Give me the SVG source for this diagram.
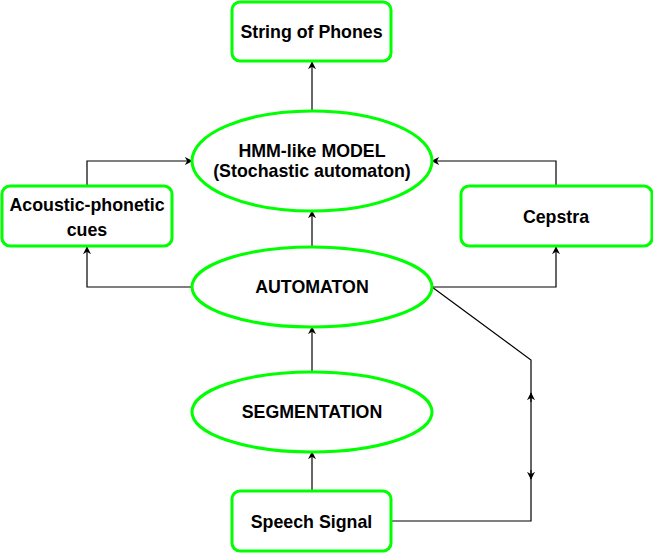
<svg xmlns="http://www.w3.org/2000/svg" width="653" height="553" viewBox="0 0 653 553">
<defs>
<style>
.n{fill:#fff;stroke:#00ff00;stroke-width:3}
.t{font-family:"Liberation Sans",Arial,sans-serif;font-weight:bold;font-size:17.8px;text-anchor:middle;fill:#000}
.c{fill:none;stroke:#000;stroke-width:1.2}
</style>
<marker id="a" viewBox="0 0 10 10" refX="9" refY="5" markerWidth="8" markerHeight="8" markerUnits="userSpaceOnUse" orient="auto">
<path d="M0,0 L10,5 L0,10 L3,5 z" fill="#000"/>
</marker>
</defs>
<rect width="653" height="553" fill="#fff"/>
<g id="connectors">
<path class="c" d="M312,111 V62" marker-end="url(#a)"/>
<path class="c" d="M312,247 V211" marker-end="url(#a)"/>
<path class="c" d="M312,372 V327" marker-end="url(#a)"/>
<path class="c" d="M312,491 V452" marker-end="url(#a)"/>
<path class="c" d="M87,186 V161 H192" marker-end="url(#a)"/>
<path class="c" d="M192,287 H87 V247" marker-end="url(#a)"/>
<path class="c" d="M556,186 V161 H432" marker-end="url(#a)"/>
<path class="c" d="M432,287 H556 V247" marker-end="url(#a)"/>
<path class="c" d="M432,287 L531,360 V521 H392"/>
<path class="c" d="M531,402 V393" marker-end="url(#a)"/>
<path class="c" d="M531,470 V479" marker-end="url(#a)"/>
</g>
<g id="string-of-phones">
<rect class="n" x="232" y="2" width="159" height="59" rx="8"/>
<text class="t" x="311.5" y="38">String of Phones</text>
</g>
<g id="hmm-model">
<ellipse class="n" cx="312" cy="161" rx="120" ry="50"/>
<text class="t" x="312" y="157">HMM-like MODEL</text>
<text class="t" x="312" y="177">(Stochastic automaton)</text>
</g>
<g id="acoustic-phonetic-cues">
<rect class="n" x="2" y="186" width="170" height="60" rx="8"/>
<text class="t" x="87" y="211">Acoustic-phonetic</text>
<text class="t" x="87" y="236">cues</text>
</g>
<g id="cepstra">
<rect class="n" x="461" y="186" width="191" height="60" rx="8"/>
<text class="t" x="556" y="223">Cepstra</text>
</g>
<g id="automaton">
<ellipse class="n" cx="312" cy="287" rx="120" ry="40"/>
<text class="t" x="312" y="293">AUTOMATON</text>
</g>
<g id="segmentation">
<ellipse class="n" cx="312" cy="412" rx="120" ry="40"/>
<text class="t" x="312" y="418">SEGMENTATION</text>
</g>
<g id="speech-signal">
<rect class="n" x="232" y="491" width="159" height="60" rx="8"/>
<text class="t" x="311.5" y="528">Speech Signal</text>
</g>
</svg>
